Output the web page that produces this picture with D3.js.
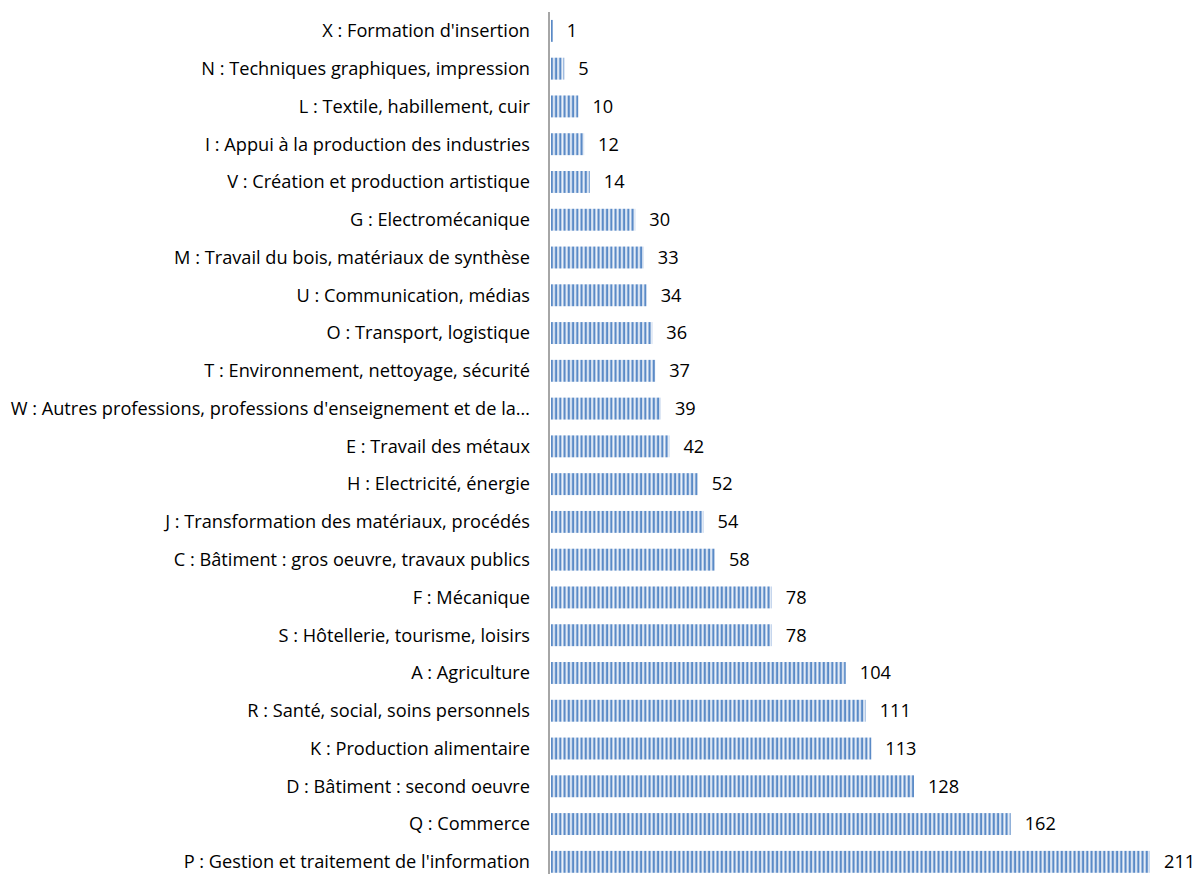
<!DOCTYPE html>
<meta charset="utf-8">
<style>
  body { margin: 0; background: #fff; }
  text { font-family: "Open Sans", sans-serif; font-size: 18.2px; fill: #000; }
</style>
<svg width="1200" height="874"></svg>
<script src="https://d3js.org/d3.v7.min.js"></script>
<script>

var categories = [
  "X : Formation d'insertion",
  "N : Techniques graphiques, impression",
  "L : Textile, habillement, cuir",
  "I : Appui à la production des industries",
  "V : Création et production artistique",
  "G : Electromécanique",
  "M : Travail du bois, matériaux de synthèse",
  "U : Communication, médias",
  "O : Transport, logistique",
  "T : Environnement, nettoyage, sécurité",
  "W : Autres professions, professions d'enseignement et de la…",
  "E : Travail des métaux",
  "H : Electricité, énergie",
  "J : Transformation des matériaux, procédés",
  "C : Bâtiment : gros oeuvre, travaux publics",
  "F : Mécanique",
  "S : Hôtellerie, tourisme, loisirs",
  "A : Agriculture",
  "R : Santé, social, soins personnels",
  "K : Production alimentaire",
  "D : Bâtiment : second oeuvre",
  "Q : Commerce",
  "P : Gestion et traitement de l'information"
];
var values = [1, 5, 10, 12, 14, 30, 33, 34, 36, 37, 39, 42, 52, 54, 58, 78, 78, 104, 111, 113, 128, 162, 211];

var svg = d3.select("svg"),
    x0 = 550,
    plotTop = 12,
    step = 37.77;

var x = d3.scaleLinear()
    .domain([0, 211])
    .range([x0, 1150]);

var y = d3.scaleBand()
    .domain(categories)
    .range([plotTop, plotTop + step * categories.length])
    .paddingInner(0.42)
    .paddingOuter(0.21);

// striped fill
var defs = svg.append("defs");
var pat = defs.append("pattern")
    .attr("id", "stripes")
    .attr("patternUnits", "userSpaceOnUse")
    .attr("x", x0 + 1)
    .attr("width", 4.25)
    .attr("height", 10);
pat.append("rect").attr("x", 0).attr("width", 2.2).attr("height", 10).attr("fill", "#5a8ac6");
pat.append("rect").attr("x", 2.2).attr("width", 1.0).attr("height", 10).attr("fill", "#ffffff");
pat.append("rect").attr("x", 3.2).attr("width", 1.05).attr("height", 10).attr("fill", "#b3c9e7");

svg.append("g").selectAll("rect")
    .data(values)
    .enter().append("rect")
    .attr("x", x0 + 1)
    .attr("y", function(d, i) { return y(categories[i]); })
    .attr("width", function(d) { return x(d) - x0 - 1; })
    .attr("height", y.bandwidth())
    .attr("fill", "url(#stripes)");

// category labels
svg.append("g").selectAll("text")
    .data(categories)
    .enter().append("text")
    .attr("x", 530)
    .attr("y", function(d) { return y(d) + y.bandwidth() / 2; })
    .attr("dy", "0.35em")
    .attr("text-anchor", "end")
    .text(function(d) { return d; });

// value labels
svg.append("g").selectAll("text")
    .data(values)
    .enter().append("text")
    .attr("x", function(d) { return x(d) + 14; })
    .attr("y", function(d, i) { return y(categories[i]) + y.bandwidth() / 2; })
    .attr("dy", "0.35em")
    .text(function(d) { return d; });

// axis line
svg.append("line")
    .attr("x1", x0 - 1).attr("x2", x0 - 1)
    .attr("y1", plotTop).attr("y2", 874)
    .attr("stroke", "#a6a6a6")
    .attr("stroke-width", 2);

</script>
